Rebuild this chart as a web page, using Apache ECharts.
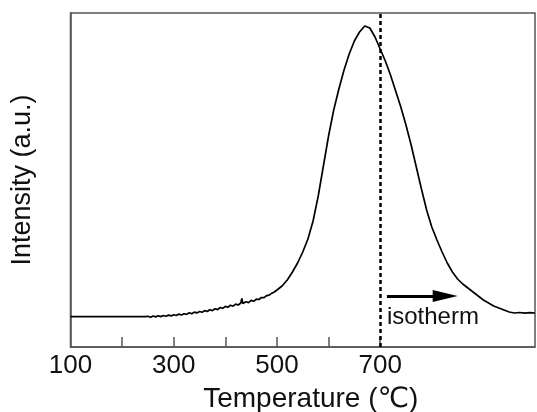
<!DOCTYPE html>
<html>
<head>
<meta charset="utf-8">
<script src="https://cdn.jsdelivr.net/npm/echarts@6/dist/echarts.min.js"></script>
<style>html,body{margin:0;padding:0;background:#fff}#c{width:537px;height:412px}</style>
</head>
<body>
<div id="c"></div>
<script>
// Temperature (°C) and intensity (a.u.)
const temps = [100,150,200,244,250,255,260,265,270,275,280,285,290,295,300,305,310,315,320,325,330,335,340,345,350,355,360,365,370,375,380,385,390,395,400,405,410,415,420,425,430,432,434,440,445,450,455,460,465,470,475,480,485,490,495,500,510,520,530,540,550,560,570,580,590,600,610,620,630,640,650,660,670,680,690,700,710,720,730,740,750,760,770,780,790,800,810,820,830,840,850,860,870,880,890,900,910,920,930,940,950,960,970,980,990,1000];
const intensity = [30.3,30.3,30.3,30.3,30.7,29.7,31.0,30.1,31.2,30.4,31.5,30.8,31.9,31.1,32.3,31.5,32.9,32.0,33.3,32.6,34.2,33.2,34.9,34.1,35.5,34.8,36.4,35.5,37.3,36.4,38.3,37.4,39.5,38.6,40.6,39.8,41.7,40.8,42.9,42.0,44.0,48.5,43.4,45.2,44.4,46.6,45.7,47.8,47.5,49.5,49.3,51.4,51.8,53.8,55.0,57.0,61,67,75,84,95,108,126,151,181,211,237,258,277,293,306,315,321,319,310,298,286,272,256,240,222,202,180,158,137,120,107,95,84,75,68,63,59,55,51,47,44,41,39,37,35,34,34.5,33.8,34.3,34];
const xTicks = [200,300,400,500,600,700];
const xLabels = [100,300,500,700];
const isothermStart = 700;
const arrowFrom = [713, 51];
const arrowTo = [826, 51];
const textAt = [713, 20];

const data = temps.map((t, i) => [t, intensity[i]]);
const font = '"Liberation Sans", Arial, "DejaVu Sans", "Noto Sans CJK SC", sans-serif';
const chart = echarts.init(document.getElementById('c'), null, {renderer: 'canvas'});
chart.setOption({
  animation: false,
  backgroundColor: '#fff',
  grid: {left: 70.5, right: 2, top: 13, bottom: 65, containLabel: false, outerBoundsMode: 'none',
         show: true, borderColor: '#555', borderWidth: 1.5},
  xAxis: {
    type: 'value', min: 100, max: 1000, interval: 100,
    name: 'Temperature (℃)', nameLocation: 'middle', nameGap: 38,
    nameTextStyle: {fontFamily: font, fontSize: 28, color: '#111', padding: [0, 0, 0, 16]},
    axisLine: {show: true, lineStyle: {color: '#555', width: 1.5}},
    axisTick: {show: true, inside: true, length: 10, customValues: xTicks, lineStyle: {color: '#555', width: 1.5}},
    axisLabel: {show: true, customValues: xLabels, margin: 6, fontFamily: font, fontSize: 26, color: '#111'},
    splitLine: {show: false}
  },
  yAxis: {
    type: 'value', min: 0, max: 334,
    name: 'Intensity (a.u.)', nameLocation: 'middle', nameGap: 34,
    nameTextStyle: {fontFamily: font, fontSize: 27, color: '#111'},
    axisLine: {show: true, lineStyle: {color: '#555', width: 1.5}},
    axisTick: {show: false}, axisLabel: {show: false}, splitLine: {show: false}
  },
  series: [
    {
      type: 'line', data: data, showSymbol: false, smooth: false,
      lineStyle: {color: '#000', width: 1.7},
      markLine: {
        silent: true, symbol: 'none', label: {show: false},
        lineStyle: {color: '#000', type: [4, 3], width: 2.5},
        data: [{xAxis: isothermStart}]
      }
    },
    {
      type: 'line', data: [], showSymbol: false,
      markLine: {
        silent: true, label: {show: false},
        symbol: ['none', 'triangle'], symbolSize: [12, 25],
        lineStyle: {color: '#000', type: 'solid', width: 3},
        data: [[{coord: arrowFrom}, {coord: arrowTo}]]
      }
    }
  ]
});
const p = chart.convertToPixel({gridIndex: 0}, textAt);
chart.setOption({
  graphic: [{
    type: 'text', left: p[0], top: p[1] - 22,
    style: {text: 'isotherm', fontFamily: font, fontSize: 24, fill: '#111'}
  }]
});
</script>
</body>
</html>
